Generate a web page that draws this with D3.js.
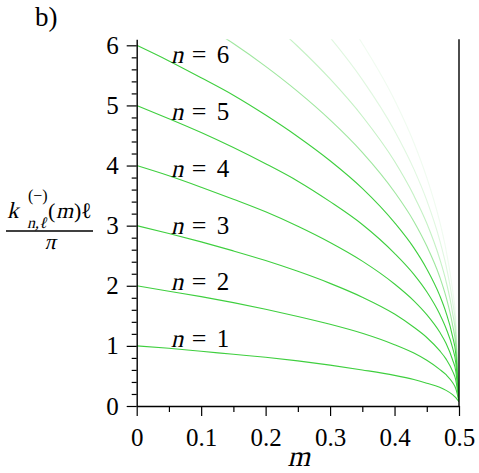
<!DOCTYPE html>
<html><head><meta charset="utf-8">
<script src="https://cdn.jsdelivr.net/npm/d3@7"></script>
</head><body style="margin:0">
<svg id="c" width="479" height="473"></svg>
<script>
const mValues = [0, 0.05, 0.1, 0.15, 0.2, 0.25, 0.3, 0.35, 0.4, 0.43, 0.45, 0.47, 0.48, 0.49, 0.495, 0.5];
const k1  = [1.00,0.96,0.91,0.86,0.81,0.75,0.68,0.60,0.51,0.44,0.38,0.31,0.26,0.19,0.14,0.07];
const k2  = [2.00,1.91,1.82,1.72,1.61,1.49,1.36,1.21,1.02,0.88,0.76,0.61,0.52,0.39,0.29,0.07];
const k3  = [3.00,2.87,2.73,2.58,2.42,2.24,2.04,1.81,1.53,1.31,1.14,0.92,0.78,0.58,0.43,0.07];
const k4  = [4.00,3.83,3.64,3.44,3.23,2.99,2.72,2.41,2.03,1.75,1.52,1.23,1.04,0.77,0.58,0.07];
const k5  = [5.00,4.78,4.55,4.30,4.03,3.74,3.40,3.02,2.54,2.19,1.90,1.53,1.29,0.97,0.72,0.07];
const k6  = [6.00,5.74,5.46,5.17,4.84,4.48,4.08,3.62,3.05,2.63,2.28,1.84,1.55,1.16,0.87,0.07];
const k7  = [7.00,6.70,6.37,6.03,5.65,5.23,4.76,4.22,3.56,3.07,2.66,2.15,1.81,1.35,1.01,0.07];
const k8  = [8.00,7.65,7.28,6.89,6.46,5.98,5.44,4.82,4.07,3.50,3.04,2.45,2.07,1.55,1.16,0.07];
const k9  = [9.00,8.61,8.19,7.75,7.26,6.73,6.13,5.43,4.58,3.94,3.42,2.76,2.33,1.74,1.30,0.07];
const k10 = [10.00,9.57,9.11,8.61,8.07,7.47,6.81,6.03,5.09,4.38,3.80,3.07,2.59,1.93,1.45,0.07];
const seriesOpacity = [1,1,1,1,1,1,0.5,0.3,0.16,0.08];

const xMajorTicks = [0, 0.1, 0.2, 0.3, 0.4, 0.5];
const xTickLabels = ["0", "0.1", "0.2", "0.3", "0.4", "0.5"];
const xMinorTicks = [0.05, 0.15, 0.25, 0.35, 0.45];
const yMajorTicks = [0, 1, 2, 3, 4, 5, 6];
const yMinorTicks = [0.2,0.4,0.6,0.8,1.2,1.4,1.6,1.8,2.2,2.4,2.6,2.8,3.2,3.4,3.6,3.8,4.2,4.4,4.6,4.8,5.2,5.4,5.6,5.8];

const labelN = [1, 2, 3, 4, 5, 6];
const labelK = [1.10, 2.04, 2.98, 3.93, 4.87, 5.82];
const labelM = 0.053;

const FONT = "'Liberation Serif'";
const svg = d3.select("#c");
const x = d3.scaleLinear().domain([0, 0.5]).range([136.7, 459]);
const y = d3.scaleLinear().domain([0, 6.1]).range([406, 39.3]);
const green = "#3fcf3f";

svg.append("defs").append("clipPath").attr("id","clip")
  .append("rect").attr("x", x(0)).attr("y", y(6.1))
  .attr("width", x(0.5)-x(0)).attr("height", y(0)-y(6.1));

const allSeries = [k1,k2,k3,k4,k5,k6,k7,k8,k9,k10];
const line = d3.line().x(d => x(d[0])).y(d => y(d[1])).curve(d3.curveMonotoneX);
svg.append("g").attr("clip-path","url(#clip)")
  .selectAll("path").data(allSeries).join("path")
  .attr("d", s => line(mValues.map((m,i) => [m, s[i]])))
  .attr("fill","none").attr("stroke", green).attr("stroke-width", 1.1)
  .attr("stroke-opacity", (s,i) => seriesOpacity[i]);

function styleAxis(g){
  g.attr("font-family", null).attr("font-size", null);
  g.selectAll("line").attr("stroke","#000").attr("stroke-width",1.2);
  g.selectAll(".domain").attr("stroke","#000").attr("stroke-width",1.4);
  g.selectAll("text").style("font-family", FONT).style("font-size","25px").attr("fill","#000");
}
svg.append("g").attr("transform",`translate(0,${y(0)})`)
  .call(d3.axisBottom(x).tickValues(xMinorTicks).tickSize(6).tickSizeOuter(0).tickFormat(""))
  .call(g => g.select(".domain").remove()).call(styleAxis);
svg.append("g").attr("transform",`translate(0,${y(0)})`)
  .call(d3.axisBottom(x).tickValues(xMajorTicks).tickSize(10).tickSizeOuter(0).tickPadding(12)
    .tickFormat((d,i) => xTickLabels[i]))
  .call(styleAxis);
svg.append("g").attr("transform",`translate(${x(0)},0)`)
  .call(d3.axisLeft(y).tickValues(yMinorTicks).tickSize(5).tickSizeOuter(0).tickFormat(""))
  .call(g => g.select(".domain").remove()).call(styleAxis);
svg.append("g").attr("transform",`translate(${x(0)},0)`)
  .call(d3.axisLeft(y).tickValues(yMajorTicks).tickSize(10).tickSizeOuter(0).tickPadding(8)
    .tickFormat(d3.format("d")))
  .call(styleAxis);
svg.append("line").attr("x1", x(0.5)).attr("x2", x(0.5)).attr("y1", y(6.1)).attr("y2", y(0))
  .attr("stroke","#000").attr("stroke-width",1.4);

function up(px, py, str, size, anchor){
  return svg.append("text").attr("x", px).attr("y", py).style("font-family", FONT)
    .style("font-size", size + "px").attr("fill","#000").attr("text-anchor", anchor || "start").text(str);
}
// math italic: serif regular face slanted
function it(px, py, str, size, anchor){
  return svg.append("text").attr("transform", `translate(${px},${py}) skewX(-13)`)
    .style("font-family", FONT).style("font-size", size + "px").attr("fill","#000")
    .attr("text-anchor", anchor || "start").text(str);
}

labelN.forEach((n,i) => {
  const by = y(labelK[i]) + 7;
  it(x(labelM), by, "n", 25);
  up(x(labelM) + 21, by, "=", 26);
  up(x(labelM) + 46, by, String(n), 25);
});

up(35, 26, "b)", 27);
it(x(0.25) + 1, 466, "m", 29, "middle");

it(7, 218, "k", 23);
up(28, 201, "(−)", 16);
it(27, 228, "n,ℓ", 16);
up(48, 218, "(", 22);
it(56, 218, "m", 22);
up(74, 218, ")", 22);
up(81, 218, "ℓ", 22);
svg.append("line").attr("x1", 6).attr("x2", 93).attr("y1", 231).attr("y2", 231)
  .attr("stroke","#000").attr("stroke-width",1.4);
it(50, 249, "π", 22, "middle");
</script>
</body></html>
